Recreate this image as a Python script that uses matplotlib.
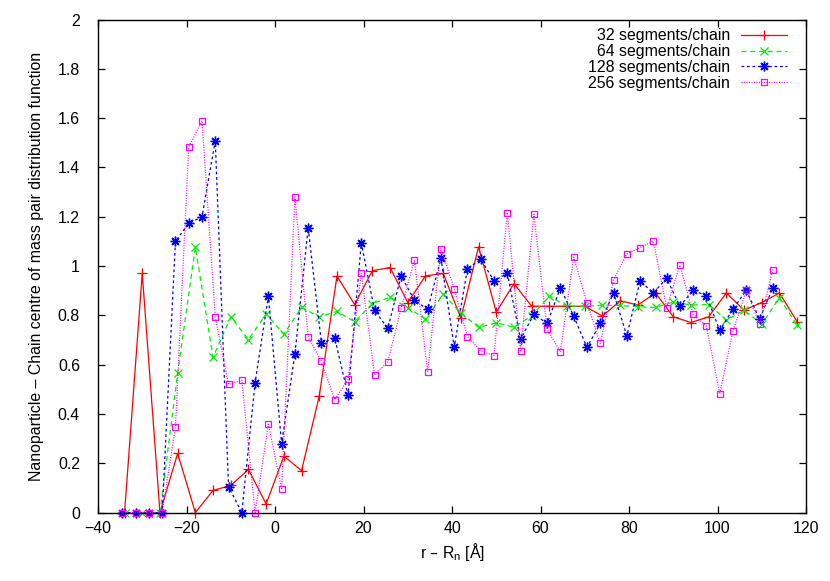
import matplotlib
matplotlib.use("Agg")
import matplotlib.pyplot as plt
from matplotlib.ticker import FuncFormatter

plt.rcParams['font.family'] = ['Liberation Sans', 'DejaVu Sans']

# ---- data ----
x_4 = [-34, -30, -26, -22, -18, -14, -10, -6, -2, 2, 6, 10, 14, 18, 22, 26, 30, 34,
       38, 42, 46, 50, 54, 58, 62, 66, 70, 74, 78, 82, 86, 90, 94, 98, 102, 106,
       110, 114, 118]
y_32 = [0, 0.97, 0, 0.24, 0, 0.09, 0.11, 0.175, 0.035, 0.229, 0.170, 0.473, 0.959,
        0.844, 0.981, 0.994, 0.852, 0.960, 0.970, 0.789, 1.078, 0.813, 0.929, 0.837,
        0.837, 0.837, 0.837, 0.797, 0.859, 0.842, 0.891, 0.794, 0.771, 0.794, 0.891,
        0.821, 0.852, 0.891, 0.774]
y_64 = [0, 0, 0, 0.565, 1.077, 0.630, 0.794, 0.702, 0.805, 0.724, 0.832, 0.794,
        0.816, 0.774, 0.848, 0.873, 0.831, 0.785, 0.885, 0.810, 0.751, 0.770, 0.752,
        0.798, 0.878, 0.837, 0.837, 0.841, 0.840, 0.835, 0.832, 0.854, 0.842, 0.844,
        0.781, 0.821, 0.765, 0.871, 0.760]

x_3 = [-34.5, -31.5, -28.5, -25.5, -22.5, -19.5, -16.5, -13.5, -10.5, -7.5, -4.5,
       -1.5, 1.5, 4.5, 7.5, 10.5, 13.5, 16.5, 19.5, 22.5, 25.5, 28.5, 31.5, 34.5,
       37.5, 40.5, 43.5, 46.5, 49.5, 52.5, 55.5, 58.5, 61.5, 64.5, 67.5, 70.5, 73.5,
       76.5, 79.5, 82.5, 85.5, 88.5, 91.5, 94.5, 97.5, 100.5, 103.5, 106.5, 109.5,
       112.5]
y_128 = [0, 0, 0, 0, 1.101, 1.173, 1.200, 1.508, 0.105, 0, 0.527, 0.878, 0.278,
         0.644, 1.155, 0.686, 0.708, 0.477, 1.094, 0.820, 0.747, 0.960, 0.862, 0.824,
         1.031, 0.672, 0.990, 1.027, 0.940, 0.970, 0.703, 0.805, 0.767, 0.912, 0.797,
         0.670, 0.767, 0.891, 0.717, 0.939, 0.891, 0.950, 0.837, 0.902, 0.879, 0.739,
         0.825, 0.902, 0.785, 0.912]
y_256 = [0, 0, 0, 0, 0.346, 1.483, 1.589, 0.793, 0.520, 0.537, 0, 0.358, 0.097,
         1.280, 0.713, 0.613, 0.458, 0.540, 0.970, 0.559, 0.612, 0.828, 1.024, 0.571,
         1.071, 0.908, 0.713, 0.656, 0.637, 1.217, 0.656, 1.210, 0.743, 0.652, 1.036,
         0.851, 0.686, 0.944, 1.049, 1.075, 1.101, 0.831, 1.004, 0.805, 0.756, 0.482,
         0.736, 0.901, 0.765, 0.986]

labels = ["32 segments/chain", "64 segments/chain",
          "128 segments/chain", "256 segments/chain"]
x_ticks = [-40, -20, 0, 20, 40, 60, 80, 100, 120]
y_ticks = [0, 0.2, 0.4, 0.6, 0.8, 1, 1.2, 1.4, 1.6, 1.8, 2]

# ---- figure ----
fig = plt.figure(figsize=(8.3, 5.81), dpi=100)
W, H = 830, 581
l, r, t, b = 98, 806, 19.5, 512.6
ax = fig.add_axes([l / W, 1 - b / H, (r - l) / W, (b - t) / H])

lw = 0.9
ax.plot(x_4, y_32, color='#ff0000', lw=lw, ls='-', marker='+', ms=7, mew=0.9,
        label=labels[0], clip_on=False)
ax.plot(x_4, y_64, color='#00f000', lw=lw, dashes=(4, 3), marker='x', ms=6,
        mew=0.9, label=labels[1], clip_on=False)
ax.plot(x_3, y_128, color='#0000ff', lw=lw, dashes=(2.2, 2.2), marker=(8, 2, 0),
        ms=7, mew=1.0, label=labels[2], clip_on=False)
ax.plot(x_3, y_256, color='#ff00ff', lw=lw, dashes=(0.8, 1.2), marker='s', ms=5,
        mew=0.9, mfc='none', label=labels[3], clip_on=False)

ax.set_xlim(-40, 120)
ax.set_ylim(0, 2)
ax.set_xticks(x_ticks)
ax.set_yticks(y_ticks)
ax.yaxis.set_major_formatter(FuncFormatter(lambda v, p: ('%g' % v)))
ax.xaxis.set_major_formatter(FuncFormatter(lambda v, p: ('%g' % v).replace('-', '\u2212')))

fs = 11.4
ax.tick_params(direction='in', length=5, width=0.9, top=True, right=True,
               labelsize=fs, colors='black')
ax.tick_params(axis='x', pad=6)
ax.tick_params(axis='y', pad=13)
for s in ax.spines.values():
    s.set_linewidth(1.0)
    s.set_color('black')

ax.set_xlabel("r \u2013 R$_\\mathregular{n}$ [\u00c5]", fontsize=fs, labelpad=4)
ax.set_ylabel("Nanoparticle \u2013 Chain centre of mass pair distribution function",
              fontsize=fs, labelpad=10)

leg = ax.legend(loc='upper right', bbox_to_anchor=(0.973, 0.982), frameon=False,
                markerfirst=False, fontsize=fs, handlelength=2.9,
                handletextpad=0.7, labelspacing=0.05, borderpad=0,
                borderaxespad=0)

fig.savefig("out.png", dpi=100)
